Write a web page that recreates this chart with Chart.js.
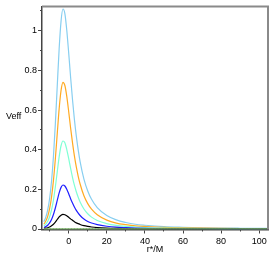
<!DOCTYPE html>
<html>
<head>
<meta charset="utf-8">
<script src="https://cdn.jsdelivr.net/npm/chart.js@4"></script>
<style>
    html, body { margin: 0; padding: 0; background: #fff; }
    #wrap { width: 273px; height: 258px; position: relative; }
</style>
</head>
<body>
<div id="wrap"><canvas id="veffChart"></canvas></div>
<script>
// tortoise coordinate r*/M (x values shared by all curves)
const rStar = [-13, -12, -11, -10, -9, -8, -7, -6, -5, -4, -3, -2, -1, 0, 1, 2, 3, 4, 5, 6,
    8, 10, 12, 15, 20, 25, 30, 35, 40, 50, 60, 70, 80, 90, 100, 104];

// effective potential curves
const veffL1 = [0.0024, 0.0040, 0.0064, 0.010, 0.016, 0.024, 0.035, 0.048, 0.061, 0.070, 0.074, 0.072, 0.067, 0.059, 0.051, 0.044, 0.037, 0.031, 0.027, 0.023,
    0.017, 0.013, 0.010, 0.0072, 0.0045, 0.0030, 0.0022, 0.0016, 0.0013, 0.0008, 0.0006, 0.0004, 0.0003, 0.0003, 0.0002, 0.0002];
const veffL2 = [0.0073, 0.012, 0.019, 0.031, 0.048, 0.073, 0.106, 0.144, 0.182, 0.210, 0.222, 0.217, 0.201, 0.178, 0.153, 0.131, 0.111, 0.094, 0.080, 0.068,
    0.050, 0.038, 0.030, 0.022, 0.014, 0.0091, 0.0067, 0.0049, 0.0038, 0.0024, 0.0017, 0.0013, 0.0010, 0.0008, 0.0006, 0.0006];
const veffL3 = [0.015, 0.024, 0.039, 0.062, 0.096, 0.146, 0.212, 0.288, 0.364, 0.420, 0.444, 0.435, 0.401, 0.356, 0.307, 0.261, 0.221, 0.188, 0.160, 0.136,
    0.101, 0.077, 0.060, 0.043, 0.027, 0.018, 0.013, 0.010, 0.0076, 0.0049, 0.0035, 0.0026, 0.0020, 0.0016, 0.0012, 0.0012];
const veffL4 = [0.024, 0.040, 0.064, 0.103, 0.161, 0.244, 0.353, 0.481, 0.606, 0.699, 0.740, 0.724, 0.669, 0.593, 0.511, 0.436, 0.369, 0.313, 0.266, 0.227,
    0.168, 0.128, 0.100, 0.072, 0.045, 0.030, 0.022, 0.016, 0.013, 0.0081, 0.0058, 0.0043, 0.0033, 0.0026, 0.0021, 0.0019];
const veffL5 = [0.037, 0.060, 0.097, 0.154, 0.241, 0.366, 0.530, 0.721, 0.909, 1.049, 1.110, 1.087, 1.003, 0.889, 0.767, 0.653, 0.553, 0.469, 0.399, 0.340,
    0.252, 0.192, 0.150, 0.108, 0.068, 0.046, 0.033, 0.024, 0.019, 0.012, 0.0087, 0.0064, 0.0049, 0.0039, 0.0031, 0.0029];
const veffL0 = rStar.map(() => 0);

// tick labels
const xMajor = [0, 20, 40, 60, 80, 100];
const xMinor = [-10, 10, 30, 50, 70, 90];
const yMajor = [0, 0.2, 0.4, 0.6, 0.8, 1];
const yMinor = [0.1, 0.3, 0.5, 0.7, 0.9, 1.1];

const FONT = { family: 'Liberation Sans, Arial, sans-serif', size: 9 };

function toPoints(values) {
    return values.map((v, i) => ({ x: rStar[i], y: v }));
}

function curve(values, color, extra) {
    return Object.assign({
        data: toPoints(values),
        borderColor: color,
        borderWidth: 1.2,
        pointRadius: 0,
        fill: false,
        cubicInterpolationMode: 'monotone'
    }, extra || {});
}

// keep only the wanted tick values
function onlyTicks(list) {
    return function (scale) {
        scale.ticks = list.map(v => ({ value: v }));
    };
}

// gray frame on top and right, plus the horizontal "Veff" label
const framePlugin = {
    id: 'frame',
    afterDraw(chart) {
        const ctx = chart.ctx;
        const a = chart.chartArea;
        ctx.save();
        ctx.strokeStyle = '#8a8a8a';
        ctx.lineWidth = 2;
        ctx.beginPath();
        ctx.moveTo(a.left, a.top);
        ctx.lineTo(a.right, a.top);
        ctx.lineTo(a.right, a.bottom);
        ctx.stroke();
        ctx.fillStyle = '#000';
        ctx.font = '9px ' + FONT.family;
        ctx.textAlign = 'left';
        ctx.textBaseline = 'middle';
        ctx.fillText('Veff', 6, 117);
        ctx.restore();
    }
};

const ctx = document.getElementById('veffChart').getContext('2d');
new Chart(ctx, {
    type: 'line',
    data: {
        datasets: [
            curve(veffL0, '#7cb46a', { borderWidth: 1.5, cubicInterpolationMode: 'default' }),
            curve(veffL0, '#3a3a3a', { borderWidth: 1, borderDash: [1, 2], cubicInterpolationMode: 'default' }),
            curve(veffL1, '#000000'),
            curve(veffL2, '#1f1fff'),
            curve(veffL3, '#7fffd4'),
            curve(veffL4, '#ffaa22'),
            curve(veffL5, '#87cef0')
        ]
    },
    options: {
        responsive: true,
        maintainAspectRatio: false,
        animation: false,
        layout: { padding: { top: 4, right: 5, left: 0, bottom: 0 } },
        plugins: {
            legend: { display: false },
            tooltip: { enabled: false }
        },
        scales: {
            xMinor: {
                type: 'linear',
                position: 'bottom',
                weight: -1,
                min: -14,
                max: 104.6,
                afterBuildTicks: onlyTicks(xMinor),
                afterFit: (s) => { s.height = 0; },
                grid: { drawOnChartArea: false, tickLength: 2, tickColor: '#444' },
                border: { display: false },
                ticks: { display: false }
            },
            x: {
                type: 'linear',
                min: -14,
                max: 104.6,
                afterBuildTicks: onlyTicks(xMajor),
                afterFit: (s) => { s.height = 28.5; },
                grid: { drawOnChartArea: false, tickLength: 4, tickColor: '#444' },
                border: { color: '#444', width: 1.5 },
                ticks: { color: '#000', font: FONT, padding: 3, maxRotation: 0 },
                title: { display: true, text: 'r*/M', color: '#000', font: FONT, padding: { top: 0, bottom: 3.5 } }
            },
            yMinor: {
                type: 'linear',
                position: 'left',
                weight: -1,
                min: -0.0025,
                max: 1.123,
                afterBuildTicks: onlyTicks(yMinor),
                afterFit: (s) => { s.width = 0; },
                grid: { drawOnChartArea: false, tickLength: 2, tickColor: '#444' },
                border: { display: false },
                ticks: { display: false }
            },
            y: {
                type: 'linear',
                min: -0.0025,
                max: 1.123,
                afterBuildTicks: onlyTicks(yMajor),
                afterFit: (s) => { s.width = 42; },
                grid: { drawOnChartArea: false, tickLength: 4, tickColor: '#444' },
                border: { color: '#444', width: 1.5 },
                ticks: { color: '#000', font: FONT, padding: 1, callback: (v) => String(v) }
            }
        }
    },
    plugins: [framePlugin]
});
</script>
</body>
</html>
